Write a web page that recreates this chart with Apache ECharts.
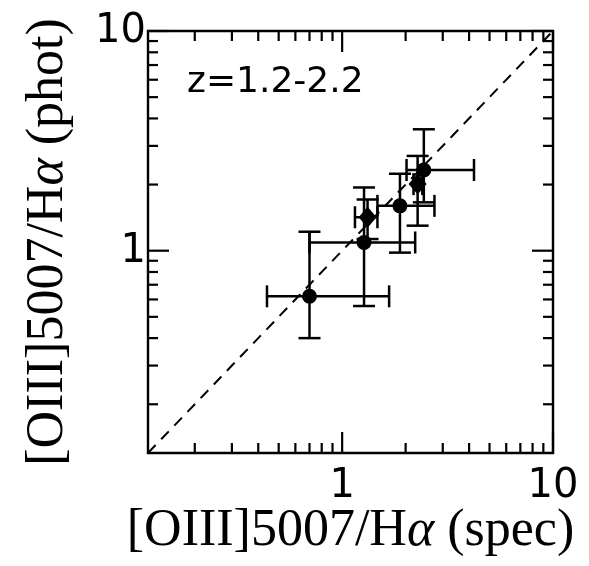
<!DOCTYPE html>
<html>
<head>
<meta charset="utf-8">
<script src="https://cdn.jsdelivr.net/npm/echarts@6/dist/echarts.min.js"></script>
<style>html,body{margin:0;padding:0;background:#fff}#c{width:589px;height:566px}</style>
</head>
<body>
<div id="c"></div>
<script>
// ---- data ----
const axisMin = 0.12, axisMax = 10;
const ptX   = [0.70, 1.27, 1.32, 1.88, 2.28, 2.44];
const ptY   = [0.62, 1.09, 1.42, 1.60, 2.01, 2.33];
const xLo   = [0.44, 0.70, 1.15, 1.47, 2.18, 2.02];
const xHi   = [1.67, 2.22, 1.47, 2.74, 2.40, 4.22];
const yLo   = [0.40, 0.56, 1.13, 0.98, 1.30, 1.66];
const yHi   = [1.22, 1.94, 1.71, 2.24, 2.70, 3.57];
const ptShape = ['circle', 'circle', 'diamond', 'circle', 'diamond', 'circle'];
const majorTicks = [1, 10];
const minorTicks = [0.2, 0.3, 0.4, 0.5, 0.6, 0.7, 0.8, 0.9, 2, 3, 4, 5, 6, 7, 8, 9];
const tickLabelValues = [1, 10];
const tickLabels = ['1', '10'];
const oneToOne = [[axisMin, axisMin], [axisMax, axisMax]];
const panelLabel = 'z=1.2-2.2';

const chart = echarts.init(document.getElementById('c'), null, {renderer: 'canvas'});

function tickSeries(axis, values, len) {
  return {
    type: 'custom', coordinateSystem: 'cartesian2d', silent: true, clip: false, z: 6,
    dimensions: ['a', 'b'],
    data: values.map(v => axis === 'x' ? [v, axisMin] : [axisMin, v]),
    renderItem(params, api) {
      const st = {stroke: '#000', lineWidth: 2.2};
      if (axis === 'x') {
        const v = api.value(0);
        const p0 = api.coord([v, axisMin]), p1 = api.coord([v, axisMax]);
        return {type: 'group', children: [
          {type: 'line', shape: {x1: p0[0], y1: p0[1], x2: p0[0], y2: p0[1] - len}, style: st},
          {type: 'line', shape: {x1: p1[0], y1: p1[1], x2: p1[0], y2: p1[1] + len}, style: st}
        ]};
      } else {
        const v = api.value(1);
        const p0 = api.coord([axisMin, v]), p1 = api.coord([axisMax, v]);
        return {type: 'group', children: [
          {type: 'line', shape: {x1: p0[0], y1: p0[1], x2: p0[0] + len, y2: p0[1]}, style: st},
          {type: 'line', shape: {x1: p1[0], y1: p1[1], x2: p1[0] - len, y2: p1[1]}, style: st}
        ]};
      }
    }
  };
}

function labelSeries(axis) {
  return {
    type: 'custom', coordinateSystem: 'cartesian2d', silent: true, clip: false, z: 6,
    dimensions: ['a', 'b'],
    data: tickLabelValues.map(v => axis === 'x' ? [v, axisMin] : [axisMin, v]),
    renderItem(params, api) {
      const font = '40px "DejaVu Sans"';
      const txt = tickLabels[params.dataIndex];
      if (axis === 'x') {
        const p = api.coord([api.value(0), axisMin]);
        return {type: 'text', x: p[0], y: p[1] + 34, style: {text: txt, font: font, fill: '#000', align: 'center', verticalAlign: 'middle'}};
      } else {
        const p = api.coord([axisMin, api.value(1)]);
        return {type: 'text', x: p[0] - 2, y: p[1] + 1, style: {text: txt, font: font, fill: '#000', align: 'right', verticalAlign: 'middle'}};
      }
    }
  };
}

const errData = ptX.map((x, i) => [x, ptY[i], xLo[i], xHi[i], yLo[i], yHi[i]]);
const scatterData = ptX.map((x, i) => ({
  value: [x, ptY[i]],
  symbol: ptShape[i],
  symbolSize: ptShape[i] === 'diamond' ? [18, 21] : 15
}));

const nameRich = {
  n: {fontFamily: 'Liberation Serif', fontSize: 52, color: '#000'},
  a: {fontFamily: 'Liberation Serif', fontSize: 52, fontStyle: 'italic', color: '#000'}
};

chart.setOption({
  animation: false,
  backgroundColor: '#fff',
  grid: {left: 148, top: 31, right: 36, bottom: 113, show: true, borderColor: '#000', borderWidth: 2.4, backgroundColor: 'transparent', z: 5},
  xAxis: {
    type: 'log', logBase: 10, min: axisMin, max: axisMax,
    axisLine: {show: false}, axisTick: {show: false}, axisLabel: {show: false}, splitLine: {show: false},
    name: '{n|[OIII]5007/H}{a|α}{n| (spec)}', nameLocation: 'middle', nameGap: 52,
    nameTextStyle: {rich: nameRich}
  },
  yAxis: {
    type: 'log', logBase: 10, min: axisMin, max: axisMax,
    axisLine: {show: false}, axisTick: {show: false}, axisLabel: {show: false}, splitLine: {show: false},
    name: '{n|[OIII]5007/H}{a|α}{n| (phot)}', nameLocation: 'middle', nameGap: 74, nameRotate: 90,
    nameTextStyle: {rich: nameRich}
  },
  graphic: [{
    type: 'text', left: 187, top: 65,
    style: {text: panelLabel, font: '36px "DejaVu Sans"', fill: '#000'}
  }],
  series: [
    {
      type: 'line', data: oneToOne, symbol: 'none', silent: true, z: 2,
      lineStyle: {color: '#000', width: 2, type: [11, 8]}
    },
    {
      type: 'custom', coordinateSystem: 'cartesian2d', silent: true, z: 3,
      dimensions: ['x', 'y', 'xl', 'xh', 'yl', 'yh'],
      encode: {x: 0, y: 1},
      data: errData,
      renderItem(params, api) {
        const x = api.value(0), y = api.value(1);
        const c = api.coord([x, y]);
        const l = api.coord([api.value(2), y]), r = api.coord([api.value(3), y]);
        const b = api.coord([x, api.value(4)]), t = api.coord([x, api.value(5)]);
        const h = 11;
        const st = {stroke: '#000', lineWidth: 2.5};
        return {type: 'group', children: [
          {type: 'line', shape: {x1: l[0], y1: c[1], x2: r[0], y2: c[1]}, style: st},
          {type: 'line', shape: {x1: c[0], y1: b[1], x2: c[0], y2: t[1]}, style: st},
          {type: 'line', shape: {x1: l[0], y1: c[1] - h, x2: l[0], y2: c[1] + h}, style: st},
          {type: 'line', shape: {x1: r[0], y1: c[1] - h, x2: r[0], y2: c[1] + h}, style: st},
          {type: 'line', shape: {x1: c[0] - h, y1: b[1], x2: c[0] + h, y2: b[1]}, style: st},
          {type: 'line', shape: {x1: c[0] - h, y1: t[1], x2: c[0] + h, y2: t[1]}, style: st}
        ]};
      }
    },
    {
      type: 'scatter', data: scatterData, z: 4, silent: true,
      itemStyle: {color: '#000', opacity: 1}
    },
    tickSeries('x', majorTicks, 21),
    tickSeries('x', minorTicks, 10),
    tickSeries('y', majorTicks, 21),
    tickSeries('y', minorTicks, 10),
    labelSeries('x'),
    labelSeries('y')
  ]
});
</script>
</body>
</html>
